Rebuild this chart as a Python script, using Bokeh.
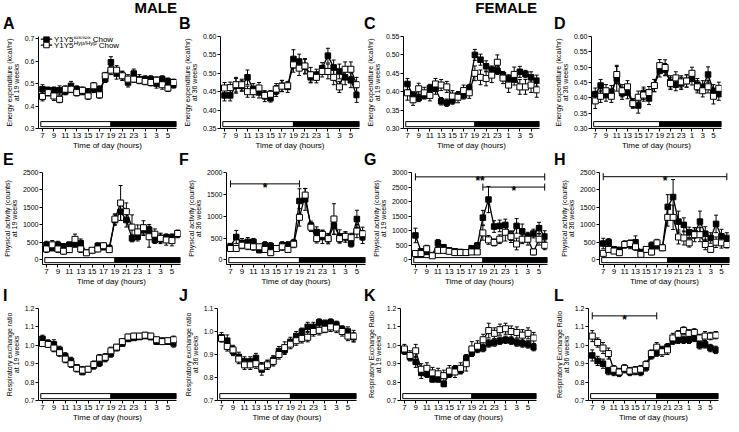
from bokeh.plotting import figure
from bokeh.layouts import column, row
from bokeh.models import (ColumnDataSource, Whisker, TeeHead, FixedTicker,
                          Range1d, Div, PrintfTickFormatter)
from bokeh.embed import file_html
from bokeh.resources import INLINE
from bokeh.core.properties import value

FONT = "Liberation Sans"

# ---------------- data ----------------
hours = [7, 8, 9, 10, 11, 12, 13, 14, 15, 16, 17, 18, 19, 20, 21, 22, 23, 0, 1, 2, 3, 4, 5, 6]
tick_hours = [7, 9, 11, 13, 15, 17, 19, 21, 23, 1, 3, 5]
light_on, dark_on = 7, 19
series_names = ["lox/lox", "Hyp/Hyp"]

# A: energy expenditure, male, 19 weeks
A_lox = [0.475, 0.470, 0.470, 0.470, 0.465, 0.490, 0.475, 0.465, 0.463, 0.475, 0.475, 0.520, 0.595, 0.545, 0.535, 0.505, 0.545, 0.520, 0.520, 0.520, 0.500, 0.520, 0.510, 0.495]
A_lox_err = [0.02, 0.015, 0.015, 0.02, 0.015, 0.02, 0.015, 0.015, 0.015, 0.015, 0.015, 0.015, 0.025, 0.025, 0.02, 0.02, 0.02, 0.02, 0.015, 0.015, 0.02, 0.015, 0.015, 0.015]
A_hyp = [0.443, 0.460, 0.445, 0.430, 0.475, 0.475, 0.460, 0.470, 0.445, 0.490, 0.450, 0.535, 0.560, 0.560, 0.535, 0.520, 0.520, 0.515, 0.510, 0.505, 0.515, 0.495, 0.480, 0.505]
A_hyp_err = [0.02, 0.015, 0.02, 0.015, 0.015, 0.015, 0.015, 0.015, 0.015, 0.015, 0.015, 0.015, 0.02, 0.02, 0.02, 0.02, 0.015, 0.015, 0.015, 0.015, 0.015, 0.02, 0.015, 0.015]

# B: energy expenditure, male, 36 weeks
B_lox = [0.440, 0.440, 0.466, 0.466, 0.489, 0.457, 0.448, 0.438, 0.432, 0.452, 0.466, 0.463, 0.539, 0.532, 0.518, 0.489, 0.496, 0.514, 0.548, 0.516, 0.505, 0.489, 0.481, 0.441]
B_lox_err = [0.015, 0.015, 0.02, 0.015, 0.02, 0.015, 0.015, 0.015, 0.01, 0.015, 0.015, 0.015, 0.025, 0.02, 0.02, 0.015, 0.015, 0.015, 0.02, 0.02, 0.02, 0.02, 0.02, 0.02]
B_hyp = [0.460, 0.461, 0.469, 0.469, 0.450, 0.450, 0.460, 0.440, 0.443, 0.457, 0.465, 0.466, 0.523, 0.514, 0.520, 0.496, 0.489, 0.505, 0.505, 0.489, 0.463, 0.511, 0.511, 0.469]
B_hyp_err = [0.015, 0.015, 0.02, 0.015, 0.015, 0.015, 0.015, 0.01, 0.01, 0.015, 0.015, 0.01, 0.02, 0.02, 0.02, 0.02, 0.015, 0.015, 0.02, 0.02, 0.015, 0.02, 0.02, 0.02]

# C: energy expenditure, female, 19 weeks
C_lox = [0.421, 0.390, 0.383, 0.390, 0.410, 0.408, 0.374, 0.370, 0.376, 0.390, 0.390, 0.410, 0.500, 0.487, 0.469, 0.460, 0.457, 0.445, 0.436, 0.433, 0.454, 0.448, 0.439, 0.430]
C_lox_err = [0.015, 0.01, 0.01, 0.01, 0.01, 0.015, 0.01, 0.01, 0.01, 0.01, 0.01, 0.01, 0.015, 0.015, 0.015, 0.01, 0.01, 0.01, 0.01, 0.015, 0.015, 0.01, 0.015, 0.015]
C_hyp = [0.397, 0.378, 0.408, 0.397, 0.390, 0.421, 0.418, 0.413, 0.388, 0.385, 0.403, 0.397, 0.450, 0.439, 0.436, 0.445, 0.480, 0.437, 0.418, 0.447, 0.413, 0.413, 0.418, 0.405]
C_hyp_err = [0.02, 0.015, 0.015, 0.015, 0.015, 0.015, 0.015, 0.015, 0.015, 0.015, 0.015, 0.015, 0.02, 0.02, 0.02, 0.02, 0.02, 0.015, 0.02, 0.02, 0.02, 0.02, 0.02, 0.02]

# D: energy expenditure, female, 36 weeks
D_lox = [0.412, 0.440, 0.409, 0.420, 0.462, 0.415, 0.417, 0.383, 0.375, 0.415, 0.398, 0.440, 0.488, 0.492, 0.452, 0.443, 0.447, 0.455, 0.462, 0.443, 0.436, 0.476, 0.423, 0.412]
D_lox_err = [0.02, 0.02, 0.02, 0.02, 0.04, 0.02, 0.02, 0.015, 0.025, 0.02, 0.02, 0.02, 0.02, 0.02, 0.02, 0.02, 0.02, 0.02, 0.02, 0.02, 0.02, 0.025, 0.02, 0.02]
D_hyp = [0.390, 0.405, 0.423, 0.405, 0.476, 0.423, 0.436, 0.381, 0.402, 0.409, 0.417, 0.440, 0.505, 0.499, 0.447, 0.465, 0.452, 0.455, 0.480, 0.436, 0.423, 0.436, 0.405, 0.431]
D_hyp_err = [0.025, 0.02, 0.02, 0.02, 0.03, 0.02, 0.02, 0.015, 0.02, 0.02, 0.02, 0.02, 0.02, 0.025, 0.02, 0.02, 0.02, 0.02, 0.02, 0.02, 0.02, 0.02, 0.025, 0.02]

# E: physical activity, male, 19 weeks
E_lox = [432, 340, 432, 386, 432, 460, 478, 220, 276, 404, 368, 340, 1140, 1379, 1140, 616, 662, 846, 864, 570, 616, 643, 643, 735]
E_lox_err = [100, 80, 100, 80, 80, 100, 120, 50, 60, 80, 80, 80, 150, 250, 200, 100, 120, 150, 150, 100, 120, 100, 100, 100]
E_hyp = [313, 432, 313, 248, 294, 588, 313, 202, 276, 313, 404, 294, 1167, 1627, 1379, 938, 800, 920, 662, 735, 616, 570, 551, 754]
E_hyp_err = [100, 120, 100, 80, 80, 150, 100, 50, 60, 80, 80, 70, 150, 500, 250, 350, 200, 200, 300, 150, 150, 150, 150, 100]

# F: physical activity, male, 36 weeks
F_lox = [315, 524, 390, 412, 412, 225, 337, 315, 262, 337, 337, 390, 1348, 1386, 787, 637, 524, 487, 787, 539, 524, 375, 936, 524]
F_lox_err = [60, 150, 100, 100, 80, 60, 80, 80, 60, 80, 80, 80, 280, 250, 100, 120, 150, 120, 200, 150, 120, 80, 200, 150]
F_hyp = [262, 262, 337, 315, 300, 300, 240, 165, 262, 300, 240, 360, 974, 1483, 749, 487, 584, 487, 936, 487, 539, 509, 659, 599]
F_hyp_err = [60, 60, 80, 80, 80, 60, 60, 60, 60, 80, 60, 80, 200, 150, 100, 100, 100, 100, 350, 100, 100, 100, 150, 150]

# G: physical activity, female, 19 weeks
G_lox = [840, 294, 273, 164, 578, 436, 327, 294, 273, 251, 403, 491, 1450, 2072, 1145, 1167, 1200, 818, 1167, 981, 796, 905, 1090, 800]
G_lox_err = [250, 80, 80, 50, 120, 80, 60, 60, 60, 60, 80, 100, 250, 450, 200, 200, 200, 150, 250, 250, 150, 150, 200, 200]
G_hyp = [218, 218, 382, 142, 327, 327, 294, 251, 251, 251, 273, 273, 927, 687, 600, 709, 949, 796, 545, 709, 709, 273, 709, 500]
G_hyp_err = [80, 60, 120, 40, 80, 60, 60, 50, 50, 50, 60, 60, 250, 150, 120, 150, 300, 200, 200, 150, 200, 100, 200, 150]

# H: physical activity, female, 36 weeks
H_lox = [468, 506, 300, 281, 440, 440, 506, 225, 300, 412, 412, 346, 1517, 1798, 1095, 1002, 787, 768, 1095, 749, 627, 1030, 674, 627]
H_lox_err = [150, 100, 80, 80, 100, 120, 180, 60, 80, 100, 100, 80, 350, 500, 300, 200, 150, 150, 300, 200, 150, 250, 200, 150]
H_hyp = [187, 300, 253, 206, 440, 468, 375, 159, 300, 225, 487, 346, 1217, 1217, 655, 627, 487, 721, 721, 440, 300, 506, 487, 440]
H_hyp_err = [60, 80, 60, 60, 100, 100, 100, 50, 80, 80, 100, 80, 250, 350, 200, 200, 120, 200, 200, 150, 80, 150, 150, 100]

# I: respiratory exchange ratio, male, 19 weeks
I_lox = [1.035, 1.010, 1.005, 0.975, 0.940, 0.915, 0.880, 0.855, 0.870, 0.890, 0.905, 0.930, 0.955, 0.985, 1.010, 1.035, 1.040, 1.045, 1.050, 1.045, 1.020, 1.025, 1.020, 1.010]
I_lox_err = [0.02, 0.02, 0.025, 0.02, 0.02, 0.02, 0.015, 0.015, 0.015, 0.02, 0.02, 0.02, 0.02, 0.015, 0.015, 0.015, 0.01, 0.01, 0.01, 0.015, 0.015, 0.015, 0.015, 0.02]
I_hyp = [1.010, 1.005, 0.985, 0.960, 0.925, 0.900, 0.875, 0.865, 0.870, 0.895, 0.930, 0.935, 0.970, 0.990, 1.020, 1.045, 1.050, 1.050, 1.055, 1.050, 1.030, 1.020, 1.025, 1.030]
I_hyp_err = [0.015, 0.015, 0.02, 0.02, 0.02, 0.02, 0.02, 0.02, 0.015, 0.02, 0.02, 0.02, 0.02, 0.015, 0.015, 0.015, 0.015, 0.015, 0.015, 0.015, 0.015, 0.015, 0.015, 0.02]

# J: respiratory exchange ratio, male, 36 weeks
J_lox = [0.975, 0.960, 0.915, 0.890, 0.870, 0.870, 0.885, 0.835, 0.855, 0.875, 0.915, 0.920, 0.955, 0.980, 1.000, 1.020, 1.020, 1.040, 1.035, 1.040, 1.030, 1.010, 1.000, 0.975]
J_lox_err = [0.02, 0.025, 0.02, 0.02, 0.02, 0.02, 0.02, 0.025, 0.02, 0.02, 0.02, 0.02, 0.02, 0.02, 0.015, 0.02, 0.02, 0.015, 0.015, 0.015, 0.015, 0.015, 0.02, 0.02]
J_hyp = [0.970, 0.935, 0.920, 0.880, 0.855, 0.855, 0.860, 0.845, 0.855, 0.870, 0.900, 0.930, 0.945, 0.960, 0.970, 0.975, 1.000, 1.005, 1.010, 1.020, 1.015, 1.000, 0.980, 0.980]
J_hyp_err = [0.015, 0.02, 0.02, 0.02, 0.02, 0.02, 0.02, 0.02, 0.02, 0.02, 0.02, 0.025, 0.02, 0.02, 0.02, 0.02, 0.02, 0.02, 0.015, 0.02, 0.02, 0.02, 0.02, 0.025]

# K: respiratory exchange ratio, female, 19 weeks
K_lox = [0.970, 0.935, 0.910, 0.850, 0.845, 0.815, 0.815, 0.790, 0.845, 0.870, 0.865, 0.930, 0.960, 0.980, 0.985, 1.010, 1.015, 1.025, 1.030, 1.025, 1.015, 1.010, 1.005, 0.990]
K_lox_err = [0.02, 0.02, 0.03, 0.03, 0.02, 0.015, 0.015, 0.015, 0.02, 0.02, 0.02, 0.02, 0.02, 0.02, 0.02, 0.02, 0.02, 0.02, 0.02, 0.02, 0.02, 0.02, 0.02, 0.02]
K_hyp = [0.980, 0.945, 0.970, 0.870, 0.875, 0.850, 0.845, 0.835, 0.860, 0.855, 0.875, 0.900, 0.980, 0.995, 1.030, 1.080, 1.065, 1.085, 1.090, 1.075, 1.070, 1.055, 1.065, 1.040]
K_hyp_err = [0.025, 0.025, 0.035, 0.03, 0.03, 0.03, 0.03, 0.03, 0.03, 0.03, 0.03, 0.04, 0.04, 0.03, 0.03, 0.04, 0.03, 0.03, 0.03, 0.03, 0.03, 0.03, 0.03, 0.03]

# L: respiratory exchange ratio, female, 36 weeks
L_lox = [0.945, 0.915, 0.900, 0.860, 0.855, 0.850, 0.870, 0.855, 0.860, 0.855, 0.880, 0.945, 0.960, 0.975, 0.990, 1.025, 1.030, 1.030, 1.030, 1.040, 1.000, 1.005, 0.985, 0.975]
L_lox_err = [0.03, 0.025, 0.025, 0.02, 0.02, 0.02, 0.02, 0.02, 0.02, 0.02, 0.02, 0.02, 0.02, 0.02, 0.02, 0.02, 0.02, 0.02, 0.02, 0.02, 0.02, 0.02, 0.02, 0.02]
L_hyp = [1.050, 1.015, 0.985, 0.955, 0.870, 0.855, 0.875, 0.860, 0.865, 0.870, 0.895, 0.955, 0.990, 0.965, 0.975, 1.040, 1.060, 1.080, 1.065, 1.070, 1.040, 1.050, 1.050, 1.055]
L_hyp_err = [0.03, 0.025, 0.03, 0.03, 0.02, 0.02, 0.02, 0.02, 0.02, 0.02, 0.02, 0.02, 0.025, 0.025, 0.025, 0.025, 0.02, 0.02, 0.02, 0.02, 0.02, 0.025, 0.02, 0.02]

# significance brackets: (start hour, end hour, level, label)
F_sig = [(7, 19, 1740, "*")]
G_sig = [(7, 6, 2850, "**"), (19, 6, 2500, "*")]
H_sig = [(7, 6, 2380, "*")]
L_sig = [(7, 19, 1.16, "*")]

EE = "Energy expenditure (kcal/hr)"
PA = "Physical activity (counts)"
RER1 = "Respiratory exchange ratio"
RER2 = "Respiratory Exchange Ratio"

panels = [
    dict(letter="A", lox=A_lox, le=A_lox_err, hyp=A_hyp, he=A_hyp_err, yl=EE + "\nat 19 weeks", yr=(0.3, 0.71), yt=[0.3, 0.4, 0.5, 0.6, 0.7], fmt="%.1f", sig=[]),
    dict(letter="B", lox=B_lox, le=B_lox_err, hyp=B_hyp, he=B_hyp_err, yl=EE + "\nat 36 weeks", yr=(0.35, 0.60), yt=[0.35, 0.40, 0.45, 0.50, 0.55, 0.60], fmt="%.2f", sig=[]),
    dict(letter="C", lox=C_lox, le=C_lox_err, hyp=C_hyp, he=C_hyp_err, yl=EE + "\nat 19 weeks", yr=(0.30, 0.55), yt=[0.30, 0.35, 0.40, 0.45, 0.50, 0.55], fmt="%.2f", sig=[]),
    dict(letter="D", lox=D_lox, le=D_lox_err, hyp=D_hyp, he=D_hyp_err, yl=EE + "\nat 36 weeks", yr=(0.30, 0.60), yt=[0.30, 0.35, 0.40, 0.45, 0.50, 0.55, 0.60], fmt="%.2f", sig=[]),
    dict(letter="E", lox=E_lox, le=E_lox_err, hyp=E_hyp, he=E_hyp_err, yl=PA + "\nat 19 weeks", yr=(-132, 2500), yt=[0, 500, 1000, 1500, 2000, 2500], fmt="%d", sig=[]),
    dict(letter="F", lox=F_lox, le=F_lox_err, hyp=F_hyp, he=F_hyp_err, yl=PA + "\nat 36 weeks", yr=(-105, 2000), yt=[0, 500, 1000, 1500, 2000], fmt="%d", sig=F_sig),
    dict(letter="G", lox=G_lox, le=G_lox_err, hyp=G_hyp, he=G_hyp_err, yl=PA + "\nat 19 weeks", yr=(-158, 3000), yt=[0, 500, 1000, 1500, 2000, 2500, 3000], fmt="%d", sig=G_sig),
    dict(letter="H", lox=H_lox, le=H_lox_err, hyp=H_hyp, he=H_hyp_err, yl=PA + "\nat 36 weeks", yr=(-132, 2500), yt=[0, 500, 1000, 1500, 2000, 2500], fmt="%d", sig=H_sig),
    dict(letter="I", lox=I_lox, le=I_lox_err, hyp=I_hyp, he=I_hyp_err, yl=RER1 + "\nat 19 weeks", yr=(0.7, 1.2), yt=[0.7, 0.8, 0.9, 1.0, 1.1, 1.2], fmt="%.1f", sig=[]),
    dict(letter="J", lox=J_lox, le=J_lox_err, hyp=J_hyp, he=J_hyp_err, yl=RER1 + "\nat 36 weeks", yr=(0.7, 1.1), yt=[0.7, 0.8, 0.9, 1.0, 1.1], fmt="%.1f", sig=[]),
    dict(letter="K", lox=K_lox, le=K_lox_err, hyp=K_hyp, he=K_hyp_err, yl=RER2 + "\nat 19 weeks", yr=(0.7, 1.2), yt=[0.7, 0.8, 0.9, 1.0, 1.1, 1.2], fmt="%.1f", sig=[]),
    dict(letter="L", lox=L_lox, le=L_lox_err, hyp=L_hyp, he=L_hyp_err, yl=RER2 + "\nat 36 weeks", yr=(0.7, 1.2), yt=[0.7, 0.8, 0.9, 1.0, 1.1, 1.2], fmt="%.1f", sig=L_sig),
]
sex_titles = ["MALE", "FEMALE"]

# ---------------- layout ----------------
TOTAL_W = 721
col_specs = [(138, 38, 4), (139, 37, 4), (136, 40, 8), (130, 44, 3)]   # frame width, left, right
col_left = [0, 180, 360, 544]                                          # column start inside page
letter_dx = [3, -1, 4, 10]                                             # letter offset in column
FRAME_H, TOP, BOTTOM = 92, 4, 23
LINE_H = 16
X0, X1 = -0.7, 23.5
xs = list(range(len(hours)))


def make_panel(k):
    spec = panels[k]
    r, c = divmod(k, 4)
    fw, lb, rb = col_specs[c]
    y0, y1 = spec["yr"]
    p = figure(frame_width=fw, frame_height=FRAME_H, output_backend="svg", toolbar_location=None,
               title=None, x_range=Range1d(X0, X1), y_range=Range1d(y0, y1),
               min_border_left=lb, min_border_right=rb, min_border_top=TOP,
               min_border_bottom=BOTTOM)
    p.outline_line_color = None
    p.xgrid.visible = False
    p.ygrid.visible = False
    p.background_fill_color = "white"
    p.border_fill_color = "white"

    # axes
    p.xaxis.ticker = FixedTicker(ticks=[hours.index(t) for t in tick_hours])
    p.xaxis.major_label_overrides = {hours.index(t): str(t) for t in tick_hours}
    p.yaxis.ticker = FixedTicker(ticks=spec["yt"])
    p.yaxis.formatter = PrintfTickFormatter(format=spec["fmt"])
    for ax in (p.xaxis[0], p.yaxis[0]):
        ax.axis_line_color = "black"
        ax.axis_line_width = 1
        ax.major_tick_line_color = "black"
        ax.major_tick_out = 3
        ax.major_tick_in = 0
        ax.minor_tick_line_color = None
        ax.major_label_text_font = FONT
        ax.major_label_text_color = "black"
        ax.major_label_standoff = 1
        ax.axis_label_text_font = FONT
        ax.axis_label_text_font_style = "normal"
        ax.axis_label_text_color = "black"
    p.xaxis.major_label_text_font_size = "8px"
    p.yaxis.major_label_text_font_size = "7px"
    p.xaxis.axis_label = "Time of day (hours)"
    p.xaxis.axis_label_text_font_size = "8px"
    p.xaxis.axis_label_standoff = 0
    p.yaxis.axis_label = spec["yl"]
    p.yaxis.axis_label_text_font_size = "7px"
    p.yaxis.axis_label_standoff = 2
    p.yaxis.axis_label_text_line_height = 1.0

    # light / dark bar
    span = y1 - y0
    b_lo, b_hi = y0 + 0.02 * span, y0 + 0.075 * span
    i_light, i_dark = hours.index(light_on), hours.index(dark_on)
    p.quad(left=[i_light - 0.3], right=[i_dark], bottom=[b_lo], top=[b_hi],
           fill_color="white", line_color="black", line_width=1)
    p.quad(left=[i_dark], right=[X1], bottom=[b_lo], top=[b_hi],
           fill_color="black", line_color="black", line_width=1)

    # series
    for vals, errs, filled in ((spec["lox"], spec["le"], True), (spec["hyp"], spec["he"], False)):
        src = ColumnDataSource(dict(x=xs, y=vals,
                                    upper=[v + e for v, e in zip(vals, errs)],
                                    lower=[v - e for v, e in zip(vals, errs)]))
        wk = Whisker(source=src, base="x", upper="upper", lower="lower",
                     line_color="black", line_width=1, level="underlay",
                     upper_head=TeeHead(size=4, line_color="black", line_width=1),
                     lower_head=TeeHead(size=4, line_color="black", line_width=1))
        p.add_layout(wk)
        p.line("x", "y", source=src, line_color="black", line_width=1.3)
        if filled:
            p.scatter("x", "y", source=src, marker="square", size=5.5,
                      fill_color="black", line_color="black")
        else:
            p.scatter("x", "y", source=src, marker="square", size=6,
                      fill_color="white", line_color="black", line_width=1)

    # significance brackets
    for (hs, he, lvl, lab) in spec["sig"]:
        a, b = hours.index(hs), hours.index(he)
        ssrc = ColumnDataSource(dict(base=[lvl], lower=[a], upper=[b]))
        p.add_layout(Whisker(source=ssrc, base="base", lower="lower", upper="upper",
                             dimension="width", line_color="black", line_width=1,
                             upper_head=TeeHead(size=7, line_color="black", line_width=1),
                             lower_head=TeeHead(size=7, line_color="black", line_width=1)))
        p.text(x=[(a + b) / 2], y=[lvl], text=[lab], text_align="center",
               text_baseline="alphabetic", text_font=value(FONT),
               text_font_size="12px", text_font_style="bold", text_color="black",
               y_offset=4)

    # legend (panel A only)
    if k == 0:
        rows = [(0.698, True, series_names[0], 17.0), (0.672, False, series_names[1], 23.0)]
        for yy, filled, sup, supw in rows:
            p.line(x=[-0.3, 1.7], y=[yy, yy], line_color="black", line_width=1.3)
            p.scatter(x=[0.7], y=[yy], marker="square", size=5.5,
                      fill_color="black" if filled else "white", line_color="black")
            p.text(x=[2.0], y=[yy], text=["Y1Y5"], text_baseline="middle",
                   text_font=value(FONT), text_font_size="8px", text_color="black")
            p.text(x=[2.0], y=[yy], text=[sup], x_offset=19.8, y_offset=-2.5,
                   text_baseline="middle", text_font=value(FONT),
                   text_font_size="6px", text_color="black")
            p.text(x=[2.0], y=[yy], text=["Chow"], x_offset=19.8 + supw + 2,
                   text_baseline="middle", text_font=value(FONT),
                   text_font_size="8px", text_color="black")
    return p


SPAN = ("position:absolute;font-family:'Liberation Sans',Arial,sans-serif;"
        "font-weight:bold;color:black;white-space:nowrap;")


def line_div(spans):
    return (f'<div style="position:relative;display:block;width:{TOTAL_W}px;'
            f'height:{LINE_H}px;overflow:visible;">' + "".join(spans) + "</div>")


def header(r):
    lines = []
    if r == 0:
        right_edges = [col_left[0] + col_specs[0][1] + col_specs[0][0] + 1,
                       col_left[2] + col_specs[2][1] + col_specs[2][0] + 1]
        lines.append(line_div([
            f'<span style="{SPAN}font-size:15px;line-height:{LINE_H}px;'
            f'right:{TOTAL_W - re_}px;">{name}</span>'
            for name, re_ in zip(sex_titles, right_edges)]))
    lines.append(line_div([
        f'<span style="{SPAN}font-size:16px;line-height:{LINE_H}px;'
        f'left:{col_left[c] + letter_dx[c]}px;">{panels[4 * r + c]["letter"]}</span>'
        for c in range(4)]))
    h = LINE_H * len(lines)
    return Div(text="".join(lines), width=TOTAL_W, height=h, margin=(0, 0, 0, 0))


figs = [make_panel(k) for k in range(12)]
layout = column(
    header(0), row(figs[0:4], spacing=0),
    header(1), row(figs[4:8], spacing=0),
    header(2), row(figs[8:12], spacing=0),
    spacing=0,
)

with open("out.html", "w") as f:
    f.write(file_html(layout, INLINE))
